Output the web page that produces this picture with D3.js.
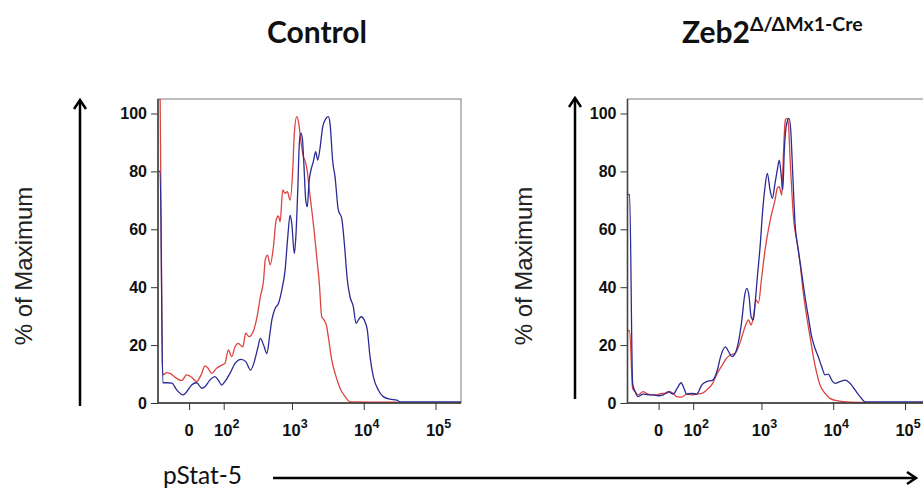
<!DOCTYPE html>
<html><head><meta charset="utf-8">
<script src="https://cdn.jsdelivr.net/npm/d3@7"></script>
<style>body{margin:0;background:#fff;} svg{display:block}</style>
</head><body>
<svg id="c" width="923" height="488"></svg>
<script>
// ---------- data ----------
const panelTitles = ["Control", "Zeb2"];
const titleSuperscript = "\u0394/\u0394Mx1-Cre";
const yLabel = "% of Maximum";
const xLabel = "pStat-5";
const xMajorTicks = [0, 1e2, 1e3, 1e4, 1e5];
const xMajorExponents = [null, 2, 3, 4, 5];
const yMajorTicks = [0, 20, 40, 60, 80, 100];

// pStat-5 intensity vs % of maximum
const controlRed = [[-85,105],[-79,105],[-72,13.7],[-69,9.7],[-58,10.5],[-48,10.2],[-30,8.5],[-18,7.7],[-6,9.7],[6,8.9],[18,7.4],[31,10.3],[39,12.8],[48,12.0],[58,10.2],[74,12.0],[92,13.1],[105,13.7],[120,18.3],[136,16.0],[153,19.4],[171,20.6],[200,19.4],[222,24.1],[247,22.9],[290,25.2],[323,29.8],[360,36.7],[400,42.5],[422,49.4],[454,51.1],[495,47.7],[551,54.0],[601,63.2],[647,64.6],[683,62.6],[744,73.6],[802,72.4],[863,73.0],[942,70.1],[1026,80.5],[1080,93.2],[1166,98.9],[1244,96.6],[1327,90.8],[1442,85.1],[1538,83.4],[1638,79.9],[1747,73.6],[1888,66.7],[2032,59.8],[2214,50.5],[2408,41.3],[2600,29.8],[2799,28.7],[3052,26.4],[3213,22.9],[3583,14.9],[3981,10.3],[4677,5.1],[5495,2.2],[6442,0.4],[29000,0.3]];
const controlBlue = [[-85,80],[-79,80],[-70,7.0],[-58,7.0],[-43,6.9],[-30,4.5],[-14,2.8],[-6,3.8],[6,6.2],[18,7.0],[31,5.1],[39,5.6],[53,7.9],[69,9.1],[80,7.9],[92,6.2],[105,7.4],[128,10.3],[153,13.7],[189,15.1],[222,14.3],[261,11.4],[290,13.7],[330,18.9],[360,22.3],[400,20.0],[446,17.1],[485,22.9],[523,28.7],[582,32.7],[647,34.4],[721,39.0],[802,45.9],[874,57.4],[942,64.9],[993,62.1],[1080,51.7],[1140,58.6],[1205,73.6],[1268,89.7],[1327,93.2],[1396,91.4],[1473,81.6],[1556,70.1],[1638,67.8],[1730,76.4],[1845,80.5],[1986,83.4],[2144,86.8],[2286,83.9],[2461,88.0],[2683,95.4],[2985,98.3],[3213,98.9],[3392,96.6],[3700,83.4],[3981,78.2],[4426,66.7],[4940,63.8],[5370,55.2],[5912,42.5],[6442,36.7],[7161,33.3],[7816,27.5],[8414,28.7],[9170,29.8],[10420,28.1],[11220,25.2],[12240,16.0],[13610,9.1],[15960,4.5],[18750,2.2],[23230,1.3],[28840,1.0],[32060,0.4],[226000,0.4]];
const zebRed = [[-85,25],[-79,25],[-69,5.1],[-61,3.9],[-52,2.8],[-38,3.9],[-29,3.3],[-16.5,2.8],[-4.5,2.8],[7.4,3.3],[19.4,3.3],[27.7,3.9],[36,3.3],[45,2.2],[60,2.0],[76,3.1],[95,2.8],[115,3.1],[138,3.3],[165,4.5],[203,6.8],[238,10.3],[280,13.1],[321,15.4],[366,16.6],[429,17.2],[477,19.4],[532,22.9],[591,26.4],[658,28.7],[716,26.9],[771,29.8],[841,35.6],[906,34.5],[1009,43.6],[1122,52.8],[1248,59.8],[1391,65.5],[1546,70.1],[1664,74.2],[1775,74.7],[1917,71.8],[2018,85.1],[2153,97.8],[2250,98.3],[2371,96.6],[2500,85.1],[2642,73.6],[2844,62.1],[3105,56.3],[3451,48.3],[3837,37.9],[4276,29.8],[4753,22.9],[5284,16.0],[5888,10.3],[6546,6.2],[7691,3.3],[9016,1.6],[11190,0.8],[15420,0.4],[29300,0.2]];
const zebBlue = [[-85,72],[-79,72],[-69,6.8],[-61,3.9],[-52,2.2],[-38,3.1],[-25,2.8],[-12.6,2.8],[-0.7,2.5],[11.2,2.8],[23.4,3.9],[36,3.1],[47,5.1],[58,7.0],[67,5.1],[76,3.1],[95,3.3],[115,3.1],[138,6.2],[165,7.4],[203,7.9],[238,11.4],[265,16.0],[311,19.4],[346,17.7],[385,16.0],[429,17.2],[477,21.2],[532,28.7],[578,36.7],[624,39.6],[672,36.7],[716,29.8],[771,28.7],[815,34.4],[877,43.6],[957,54.0],[1042,66.7],[1122,74.7],[1208,79.3],[1318,73.6],[1419,70.7],[1546,75.9],[1664,80.5],[1775,83.9],[1892,78.2],[1982,73.6],[2084,87.4],[2250,96.6],[2423,98.3],[2559,94.3],[2729,79.3],[2938,62.1],[3266,52.8],[3639,44.8],[4046,36.7],[4498,29.8],[5012,22.9],[5572,18.9],[6194,16.0],[6918,12.5],[7691,9.7],[8551,10.0],[9528,7.9],[10590,6.8],[12440,7.4],[14590,7.9],[17140,6.8],[20130,4.5],[23620,2.2],[27730,0.4],[226000,0.4]];

// ---------- layout ----------
const svg = d3.select("#c");
const RED = "#dc4440", BLUE = "#2b2b95";
const plotW = 303, plotTop = 99, plotBottom = 403;
const xMin = -86.6, xMax = 226200;
// biexponential (logicle-like) display transform
const T = v => Math.asinh(v / 74) / Math.LN10;

const y = d3.scaleLinear().domain([0, 100]).range([plotBottom, 113.5]);

function minorTicks() {
  const t = [];
  for (let k = 1; k <= 9; k++) { if (-k*10 > xMin) t.push(-k*10); t.push(k*10); }
  for (let e = 2; e <= 5; e++) for (let k = 2; k <= 9; k++) { const v = k*Math.pow(10,e); if (v < xMax) t.push(v); }
  return t;
}

function drawPanel(x0, series, idx) {
  const xl = d3.scaleLinear().domain([T(xMin), T(xMax)]).range([x0, x0 + plotW]);
  const x = v => xl(T(v));
  const g = svg.append("g");
  const clipId = "clip" + idx;
  svg.append("clipPath").attr("id", clipId).append("rect")
    .attr("x", x0).attr("y", plotTop).attr("width", plotW).attr("height", plotBottom - plotTop);

  // frame
  g.append("rect").attr("x", x0).attr("y", plotTop).attr("width", plotW).attr("height", plotBottom - plotTop)
    .attr("fill", "none").attr("stroke", "#7a7a7a").attr("stroke-width", 1);

  // curves
  const line = d3.line().x(d => x(d[0])).y(d => y(d[1])).curve(d3.curveMonotoneX);
  const cg = g.append("g").attr("clip-path", `url(#${clipId})`);
  series.forEach(s => {
    cg.append("path").datum(s.data).attr("d", line).attr("fill", "none")
      .attr("stroke", s.color).attr("stroke-width", 1.3).attr("stroke-linejoin", "round");
  });

  // y axis
  const ya = g.append("g").attr("transform", `translate(${x0},0)`);
  ya.call(d3.axisLeft(y).tickValues(d3.range(0, 101, 5)).tickSize(3.5).tickFormat(""));
  ya.call(d3.axisLeft(y).tickValues(yMajorTicks).tickSize(7).tickPadding(4).tickFormat(d3.format("d")));
  ya.selectAll(".domain").remove();
  ya.selectAll("line").attr("stroke", "#333");
  ya.selectAll("text").attr("font-family", "Liberation Sans, Arial, sans-serif")
    .attr("font-weight", "bold").attr("font-size", 16).attr("fill", "#111");
  g.append("line").attr("x1", x0).attr("x2", x0).attr("y1", plotTop).attr("y2", plotBottom)
    .attr("stroke", "#444").attr("stroke-width", 1.6);

  // x axis
  const xa = g.append("g").attr("transform", `translate(0,${plotBottom})`);
  xa.call(d3.axisBottom(xl).tickValues(minorTicks().map(T)).tickSize(3.5).tickFormat(""));
  xa.call(d3.axisBottom(xl).tickValues(xMajorTicks.map(T)).tickSize(7).tickFormat(""));
  xa.selectAll(".domain").remove();
  xa.selectAll("line").attr("stroke", "#333");
  g.append("line").attr("x1", x0).attr("x2", x0 + plotW).attr("y1", plotBottom).attr("y2", plotBottom)
    .attr("stroke", "#333").attr("stroke-width", 1.6);

  xMajorTicks.forEach((v, i) => {
    const t = g.append("text").attr("x", x(v)).attr("y", 436).attr("text-anchor", "middle")
      .attr("font-family", "Liberation Sans, Arial, sans-serif").attr("font-weight", "bold")
      .attr("font-size", 16.5).attr("fill", "#111");
    if (xMajorExponents[i] === null) { t.text("0"); }
    else {
      t.append("tspan").text("10");
      t.append("tspan").attr("dy", -8).attr("font-size", 12.5).text(xMajorExponents[i]);
      t.attr("dx", 3);
    }
  });
}

drawPanel(158, [{data: controlRed, color: RED}, {data: controlBlue, color: BLUE}], 0);
drawPanel(627.5, [{data: zebRed, color: RED}, {data: zebBlue, color: BLUE}], 1);

// titles
const tf = "Lato, 'Open Sans', sans-serif";
svg.append("text").attr("x", 317).attr("y", 43).attr("text-anchor", "middle")
  .attr("font-family", tf).attr("font-weight", "bold").attr("font-size", 30).attr("fill", "#111")
  .text(panelTitles[0]);
const t2 = svg.append("text").attr("x", 682).attr("y", 43)
  .attr("font-family", tf).attr("font-weight", "bold").attr("font-size", 30).attr("fill", "#111");
t2.append("tspan").text(panelTitles[1]);
t2.append("tspan").attr("dy", -12).attr("font-size", 19.5).text(titleSuperscript);

// y labels + arrows
function yArrow(ax, yTop, yBot, lx) {
  svg.append("path").attr("d", `M${ax},${yBot}V${yTop + 1}`).attr("stroke", "#000").attr("stroke-width", 2.5).attr("fill", "none");
  svg.append("path").attr("d", `M${ax - 6},${yTop + 9}L${ax},${yTop}L${ax + 6},${yTop + 9}`)
    .attr("stroke", "#000").attr("stroke-width", 2.5).attr("fill", "none").attr("stroke-linejoin", "miter");
  svg.append("text").attr("transform", `translate(${lx},266) rotate(-90)`).attr("text-anchor", "middle")
    .attr("font-family", "Liberation Sans, Arial, sans-serif").attr("font-size", 24).attr("fill", "#222")
    .text(yLabel);
}
yArrow(80, 100, 406, 32);
yArrow(575, 98, 399, 532);

// x label + arrow
svg.append("text").attr("x", 163).attr("y", 484).attr("font-family", tf)
  .attr("font-size", 24.5).attr("fill", "#111").text(xLabel);
svg.append("path").attr("d", "M273,478H915").attr("stroke", "#000").attr("stroke-width", 2.5);
svg.append("path").attr("d", "M907,472L916,478L907,484").attr("stroke", "#000").attr("stroke-width", 2.5).attr("fill", "none");
</script>
</body></html>
